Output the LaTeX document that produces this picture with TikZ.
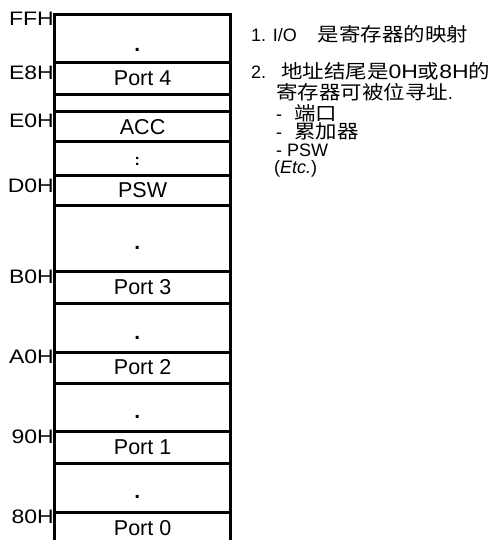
\documentclass[tikz,border=0pt]{standalone}
\usepackage{fontspec}
\setmainfont{Liberation Sans}
\newfontfamily\cjkfont[FakeStretch=1.13]{Noto Sans CJK SC}
\newfontfamily\widesans[FakeStretch=1.18]{Liberation Sans}
\newcommand\zhtext[1]{{\cjkfont\fontsize{19}{19}\selectfont #1}}
\newcommand\widetext[1]{{\widesans\fontsize{19.5}{19.5}\selectfont #1}}
\tikzset{
  cell/.style={draw, line width=3pt, minimum width=175.8pt, inner sep=0pt,
    font=\fontsize{21.5}{21.5}\selectfont},
  addr/.style={anchor=base east, inner sep=0pt,
    font=\widesans\fontsize{19.5}{19.5}\selectfont},
  note/.style={anchor=base west, inner sep=0pt,
    font=\fontsize{18}{18}\selectfont},
  dotmark/.style={inner sep=0pt, font=\bfseries\fontsize{21}{21}\selectfont},
  colonmark/.style={inner sep=0pt, font=\bfseries\fontsize{16}{16}\selectfont},
}
\begin{document}
\begin{tikzpicture}[x=1pt,y=-1pt]
\fill[white] (0,0) rectangle (495,540);
\useasboundingbox (0,0) rectangle (495,540);

% memory cells
\node[cell, minimum height=48pt]   (c1)  at (142.6,39)     {};
\node[cell, minimum height=31.3pt] (c2)  at (142.6,78.65)  {Port 4};
\node[cell, minimum height=17.4pt] (c3)  at (142.6,103)    {};
\node[cell, minimum height=30.3pt] (c4)  at (142.6,126.85) {ACC};
\node[cell, minimum height=33pt]   (c5)  at (142.6,158.5)  {};
\node[cell, minimum height=30pt]   (c6)  at (142.6,190)    {PSW};
\node[cell, minimum height=66pt]   (c7)  at (142.6,238)    {};
\node[cell, minimum height=32pt]   (c8)  at (142.6,287)    {Port 3};
\node[cell, minimum height=49pt]   (c9)  at (142.6,327.5)  {};
\node[cell, minimum height=31pt]   (c10) at (142.6,367.5)  {Port 2};
\node[cell, minimum height=48pt]   (c11) at (142.6,407)    {};
\node[cell, minimum height=32pt]   (c12) at (142.6,447)    {Port 1};
\node[cell, minimum height=49pt]   (c13) at (142.6,487.5)  {};
\node[cell, minimum height=33pt]   (c14) at (142.6,528.5)  {Port 0};

% ellipsis marks
\node[dotmark] (d1)  at (137.3,50)  {.};
\node[colonmark] (d5) at (137.3,161.7) {:};
\node[dotmark] (d7)  at (137.3,248) {.};
\node[dotmark] (d9)  at (137.3,338) {.};
\node[dotmark] (d11) at (137.3,417) {.};
\node[dotmark] (d13) at (137.3,497) {.};

% addresses
\node[addr] (aFF) at (54,26)  {FFH};
\node[addr] (aE8) at (54,80)  {E8H};
\node[addr] (aE0) at (54,128) {E0H};
\node[addr] (aD0) at (54,193) {D0H};
\node[addr] (aB0) at (54,283) {B0H};
\node[addr] (aA0) at (54,363) {A0H};
\node[addr] (a90) at (54,443) {90H};
\node[addr] (a80) at (54,523) {80H};

% notes
\node[note] (n1) at (251,41.5) {1. I/O\hspace{21pt}\zhtext{是寄存器的映射}};
\node[note] (n2) at (251,78.3) {2.\hspace{15pt}\zhtext{地址结尾是}\widetext{0H}\zhtext{或}\widetext{8H}\zhtext{的}};
\node[note] (n3) at (276,100) {\zhtext{寄存器可被位寻址}.};
\node[note] (n4) at (276,120.5) {-\hspace{12pt}\zhtext{端口}};
\node[note] (n5) at (276,138.5) {-\hspace{12pt}\zhtext{累加器}};
\node[note] (n6) at (276,156.5) {- PSW};
\node[note] (n7) at (274,174) {(\textit{Etc.})};
\end{tikzpicture}
\end{document}
